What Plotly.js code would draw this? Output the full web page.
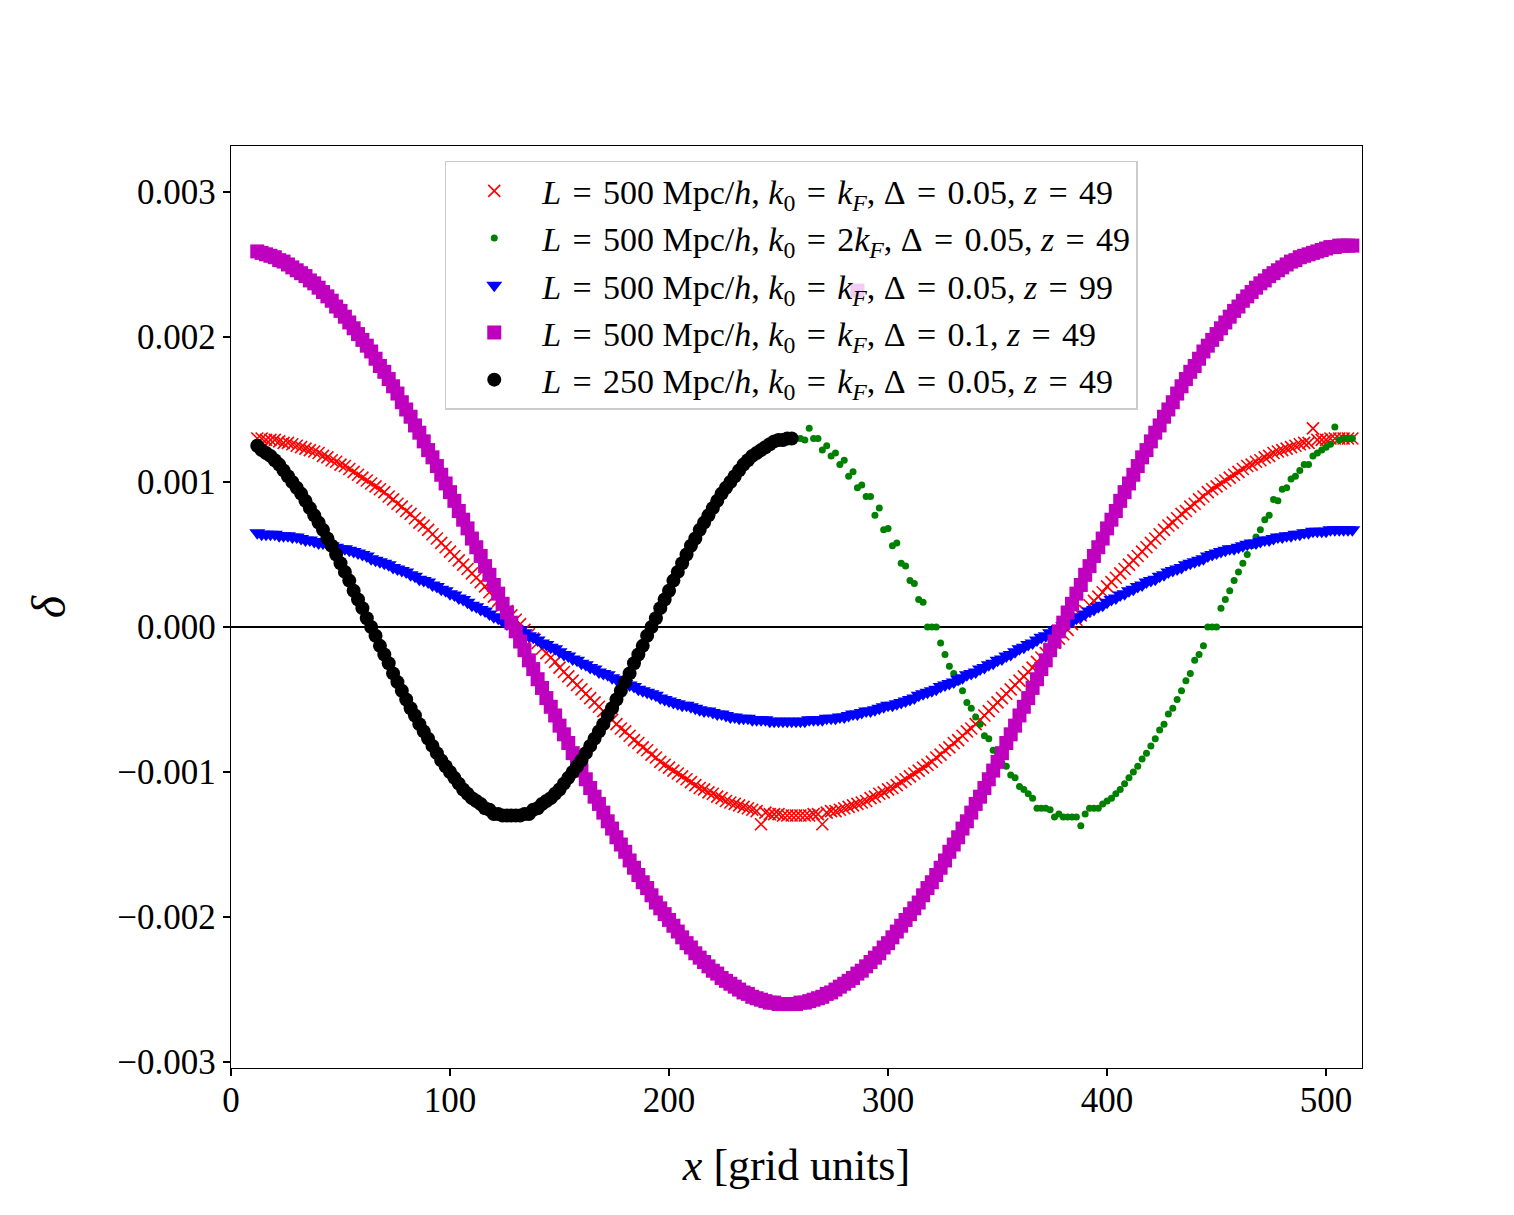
<!DOCTYPE html>
<html>
<head>
<meta charset="utf-8">
<script src="https://cdn.plot.ly/plotly-3.0.1.min.js"></script>
<style>html,body{margin:0;padding:0;background:#fff}#chart{width:1514px;height:1215px}</style>
</head>
<body>
<div id="chart"></div>
<script>
// grid positions (grid units) of the L = 500 Mpc/h runs: even set and odd set
const xsA = [
 12,16,20,24,28,32,36,40,44,48,
 52,56,60,64,68,72,76,80,84,88,
 92,96,100,104,108,112,116,120,124,128,
 132,136,140,144,148,152,156,160,164,168,
 172,176,180,184,188,192,196,200,204,208,
 212,216,220,224,228,232,236,240,244,248,
 252,256,260,264,268,272,276,280,284,288,
 292,296,300,304,308,312,316,320,324,328,
 332,336,340,344,348,352,356,360,364,368,
 372,376,380,384,388,392,396,400,404,408,
 412,416,420,424,428,432,436,440,444,448,
 452,456,460,464,468,472,476,480,484,488,
 492,496,500,504,508,512];
const xsB = [
 14,18,22,26,30,34,38,42,46,50,
 54,58,62,66,70,74,78,82,86,90,
 94,98,102,106,110,114,118,122,126,130,
 134,138,142,146,150,154,158,162,166,170,
 174,178,182,186,190,194,198,202,206,210,
 214,218,222,226,230,234,238,242,246,250,
 254,258,262,266,270,274,278,282,286,290,
 294,298,302,306,310,314,318,322,326,330,
 334,338,342,346,350,354,358,362,366,370,
 374,378,382,386,390,394,398,402,406,410,
 414,418,422,426,430,434,438,442,446,450,
 454,458,462,466,470,474,478,482,486,490,
 494,498,502,506,510];

// L=500, k0=kF, Δ=0.05, z=49
const redA = [
 1.30e-3,1.29e-3,1.29e-3,1.27e-3,1.26e-3,1.24e-3,1.22e-3,1.20e-3,1.17e-3,1.14e-3,
 1.11e-3,1.07e-3,1.03e-3,0.99e-3,0.95e-3,0.90e-3,0.85e-3,0.80e-3,0.75e-3,0.70e-3,
 0.64e-3,0.58e-3,0.52e-3,0.46e-3,0.40e-3,0.34e-3,0.28e-3,0.21e-3,0.15e-3,0.08e-3,
 0.02e-3,-0.05e-3,-0.11e-3,-0.18e-3,-0.24e-3,-0.31e-3,-0.37e-3,-0.43e-3,-0.49e-3,-0.55e-3,
 -0.61e-3,-0.67e-3,-0.72e-3,-0.78e-3,-0.83e-3,-0.88e-3,-0.93e-3,-0.97e-3,-1.01e-3,-1.05e-3,
 -1.09e-3,-1.12e-3,-1.15e-3,-1.18e-3,-1.21e-3,-1.23e-3,-1.25e-3,-1.27e-3,-1.28e-3,-1.29e-3,
 -1.30e-3,-1.30e-3,-1.30e-3,-1.30e-3,-1.29e-3,-1.28e-3,-1.27e-3,-1.25e-3,-1.23e-3,-1.21e-3,
 -1.18e-3,-1.15e-3,-1.12e-3,-1.09e-3,-1.05e-3,-1.01e-3,-0.97e-3,-0.93e-3,-0.88e-3,-0.83e-3,
 -0.78e-3,-0.72e-3,-0.67e-3,-0.61e-3,-0.55e-3,-0.49e-3,-0.43e-3,-0.37e-3,-0.31e-3,-0.24e-3,
 -0.18e-3,-0.11e-3,-0.05e-3,0.02e-3,0.08e-3,0.15e-3,0.21e-3,0.28e-3,0.34e-3,0.40e-3,
 0.46e-3,0.52e-3,0.58e-3,0.64e-3,0.70e-3,0.75e-3,0.80e-3,0.85e-3,0.90e-3,0.95e-3,
 0.99e-3,1.03e-3,1.07e-3,1.11e-3,1.14e-3,1.17e-3,1.20e-3,1.22e-3,1.24e-3,1.26e-3,
 1.27e-3,1.29e-3,1.29e-3,1.30e-3,1.30e-3,1.30e-3];
const redB = [
 1.30e-3,1.29e-3,1.28e-3,1.27e-3,1.25e-3,1.23e-3,1.21e-3,1.18e-3,1.15e-3,1.12e-3,
 1.09e-3,1.05e-3,1.01e-3,0.97e-3,0.93e-3,0.88e-3,0.83e-3,0.78e-3,0.72e-3,0.67e-3,
 0.61e-3,0.55e-3,0.49e-3,0.43e-3,0.37e-3,0.31e-3,0.24e-3,0.18e-3,0.11e-3,0.05e-3,
 -0.02e-3,-0.08e-3,-0.15e-3,-0.21e-3,-0.28e-3,-0.34e-3,-0.40e-3,-0.46e-3,-0.52e-3,-0.58e-3,
 -0.64e-3,-0.70e-3,-0.75e-3,-0.80e-3,-0.85e-3,-0.90e-3,-0.95e-3,-0.99e-3,-1.03e-3,-1.07e-3,
 -1.11e-3,-1.14e-3,-1.17e-3,-1.20e-3,-1.22e-3,-1.24e-3,-1.26e-3,-1.36e-3,-1.29e-3,-1.29e-3,
 -1.30e-3,-1.30e-3,-1.30e-3,-1.29e-3,-1.36e-3,-1.27e-3,-1.26e-3,-1.24e-3,-1.22e-3,-1.20e-3,
 -1.17e-3,-1.14e-3,-1.11e-3,-1.07e-3,-1.03e-3,-0.99e-3,-0.95e-3,-0.90e-3,-0.85e-3,-0.80e-3,
 -0.75e-3,-0.70e-3,-0.64e-3,-0.58e-3,-0.52e-3,-0.46e-3,-0.40e-3,-0.34e-3,-0.28e-3,-0.21e-3,
 -0.15e-3,-0.08e-3,-0.02e-3,0.05e-3,0.11e-3,0.18e-3,0.24e-3,0.31e-3,0.37e-3,0.43e-3,
 0.49e-3,0.55e-3,0.61e-3,0.67e-3,0.72e-3,0.78e-3,0.83e-3,0.88e-3,0.93e-3,0.97e-3,
 1.01e-3,1.05e-3,1.09e-3,1.12e-3,1.15e-3,1.18e-3,1.21e-3,1.23e-3,1.25e-3,1.27e-3,
 1.37e-3,1.29e-3,1.30e-3,1.30e-3,1.30e-3];

// L=500, k0=2kF, Δ=0.05, z=49
const greenA = [
 1.25e-3,1.20e-3,1.14e-3,1.08e-3,1.01e-3,0.92e-3,0.82e-3,0.72e-3,0.61e-3,0.49e-3,
 0.38e-3,0.25e-3,0.13e-3,0.00e-3,-0.13e-3,-0.25e-3,-0.38e-3,-0.50e-3,-0.61e-3,-0.72e-3,
 -0.82e-3,-0.92e-3,-1.00e-3,-1.08e-3,-1.15e-3,-1.20e-3,-1.25e-3,-1.29e-3,-1.30e-3,-1.30e-3,
 -1.30e-3,-1.29e-3,-1.25e-3,-1.20e-3,-1.15e-3,-1.08e-3,-1.00e-3,-0.92e-3,-0.82e-3,-0.72e-3,
 -0.61e-3,-0.50e-3,-0.38e-3,-0.25e-3,-0.13e-3,0.00e-3,0.13e-3,0.25e-3,0.38e-3,0.50e-3,
 0.61e-3,0.72e-3,0.82e-3,0.92e-3,1.00e-3,1.08e-3,1.15e-3,1.20e-3,1.24e-3,1.28e-3,
 1.29e-3,1.30e-3,1.30e-3,1.37e-3,1.30e-3,1.25e-3,1.20e-3,1.15e-3,1.07e-3,0.98e-3,
 0.90e-3,0.82e-3,0.68e-3,0.58e-3,0.42e-3,0.30e-3,0.17e-3,0.00e-3,-0.11e-3,-0.27e-3,
 -0.38e-3,-0.52e-3,-0.62e-3,-0.75e-3,-0.85e-3,-0.94e-3,-1.02e-3,-1.10e-3,-1.15e-3,-1.25e-3,
 -1.25e-3,-1.31e-3,-1.31e-3,-1.31e-3,-1.37e-3,-1.25e-3,-1.25e-3,-1.20e-3,-1.15e-3,-1.08e-3,
 -1.00e-3,-0.91e-3,-0.82e-3,-0.71e-3,-0.60e-3,-0.50e-3,-0.37e-3,-0.23e-3,-0.13e-3,0.00e-3,
 0.13e-3,0.25e-3,0.38e-3,0.50e-3,0.62e-3,0.74e-3,0.88e-3,0.95e-3,1.02e-3,1.08e-3,
 1.12e-3,1.20e-3,1.24e-3,1.38e-3,1.30e-3,1.30e-3];
const greenB = [
 1.22e-3,1.18e-3,1.12e-3,1.04e-3,0.96e-3,0.87e-3,0.77e-3,0.67e-3,0.56e-3,0.44e-3,
 0.32e-3,0.19e-3,0.06e-3,-0.06e-3,-0.19e-3,-0.32e-3,-0.44e-3,-0.56e-3,-0.67e-3,-0.77e-3,
 -0.87e-3,-0.96e-3,-1.04e-3,-1.12e-3,-1.18e-3,-1.22e-3,-1.26e-3,-1.29e-3,-1.30e-3,-1.30e-3,
 -1.29e-3,-1.26e-3,-1.22e-3,-1.18e-3,-1.12e-3,-1.04e-3,-0.96e-3,-0.87e-3,-0.77e-3,-0.67e-3,
 -0.56e-3,-0.44e-3,-0.32e-3,-0.19e-3,-0.06e-3,0.06e-3,0.19e-3,0.32e-3,0.44e-3,0.56e-3,
 0.67e-3,0.77e-3,0.87e-3,0.96e-3,1.04e-3,1.12e-3,1.18e-3,1.22e-3,1.26e-3,1.29e-3,
 1.30e-3,1.30e-3,1.29e-3,1.30e-3,1.22e-3,1.18e-3,1.12e-3,1.04e-3,0.96e-3,0.90e-3,
 0.77e-3,0.67e-3,0.56e-3,0.44e-3,0.32e-3,0.19e-3,0.00e-3,0.00e-3,-0.19e-3,-0.32e-3,
 -0.44e-3,-0.56e-3,-0.67e-3,-0.77e-3,-0.87e-3,-0.96e-3,-1.04e-3,-1.12e-3,-1.18e-3,-1.25e-3,
 -1.26e-3,-1.29e-3,-1.31e-3,-1.31e-3,-1.29e-3,-1.25e-3,-1.22e-3,-1.18e-3,-1.12e-3,-1.04e-3,
 -0.96e-3,-0.87e-3,-0.77e-3,-0.67e-3,-0.56e-3,-0.44e-3,-0.32e-3,-0.19e-3,0.00e-3,0.00e-3,
 0.19e-3,0.32e-3,0.44e-3,0.56e-3,0.67e-3,0.77e-3,0.87e-3,0.96e-3,1.04e-3,1.12e-3,
 1.18e-3,1.22e-3,1.26e-3,1.29e-3,1.30e-3];

// L=500, k0=kF, Δ=0.05, z=99
const blueA = [
 0.65e-3,0.64e-3,0.64e-3,0.63e-3,0.62e-3,0.61e-3,0.60e-3,0.58e-3,0.57e-3,0.55e-3,
 0.54e-3,0.52e-3,0.50e-3,0.47e-3,0.45e-3,0.43e-3,0.40e-3,0.38e-3,0.35e-3,0.32e-3,
 0.29e-3,0.26e-3,0.23e-3,0.20e-3,0.17e-3,0.14e-3,0.11e-3,0.07e-3,0.04e-3,0.01e-3,
 -0.02e-3,-0.06e-3,-0.09e-3,-0.12e-3,-0.15e-3,-0.19e-3,-0.22e-3,-0.25e-3,-0.28e-3,-0.31e-3,
 -0.33e-3,-0.36e-3,-0.39e-3,-0.41e-3,-0.44e-3,-0.46e-3,-0.49e-3,-0.51e-3,-0.53e-3,-0.54e-3,
 -0.56e-3,-0.58e-3,-0.59e-3,-0.60e-3,-0.62e-3,-0.63e-3,-0.63e-3,-0.64e-3,-0.64e-3,-0.65e-3,
 -0.65e-3,-0.65e-3,-0.65e-3,-0.64e-3,-0.64e-3,-0.63e-3,-0.63e-3,-0.62e-3,-0.60e-3,-0.59e-3,
 -0.58e-3,-0.56e-3,-0.54e-3,-0.53e-3,-0.51e-3,-0.49e-3,-0.46e-3,-0.44e-3,-0.41e-3,-0.39e-3,
 -0.36e-3,-0.33e-3,-0.31e-3,-0.28e-3,-0.25e-3,-0.22e-3,-0.19e-3,-0.15e-3,-0.12e-3,-0.09e-3,
 -0.06e-3,-0.02e-3,0.01e-3,0.04e-3,0.07e-3,0.11e-3,0.14e-3,0.17e-3,0.20e-3,0.23e-3,
 0.26e-3,0.29e-3,0.32e-3,0.35e-3,0.38e-3,0.40e-3,0.43e-3,0.45e-3,0.47e-3,0.50e-3,
 0.52e-3,0.54e-3,0.55e-3,0.57e-3,0.58e-3,0.60e-3,0.61e-3,0.62e-3,0.63e-3,0.64e-3,
 0.65e-3,0.66e-3,0.66e-3,0.67e-3,0.67e-3,0.67e-3];
const blueB = [
 0.64e-3,0.64e-3,0.63e-3,0.63e-3,0.62e-3,0.60e-3,0.59e-3,0.58e-3,0.56e-3,0.54e-3,
 0.53e-3,0.51e-3,0.49e-3,0.46e-3,0.44e-3,0.41e-3,0.39e-3,0.36e-3,0.33e-3,0.31e-3,
 0.28e-3,0.25e-3,0.22e-3,0.19e-3,0.15e-3,0.12e-3,0.09e-3,0.06e-3,0.02e-3,-0.01e-3,
 -0.04e-3,-0.07e-3,-0.11e-3,-0.14e-3,-0.17e-3,-0.20e-3,-0.23e-3,-0.26e-3,-0.29e-3,-0.32e-3,
 -0.35e-3,-0.38e-3,-0.40e-3,-0.43e-3,-0.45e-3,-0.47e-3,-0.50e-3,-0.52e-3,-0.54e-3,-0.55e-3,
 -0.57e-3,-0.58e-3,-0.60e-3,-0.61e-3,-0.62e-3,-0.63e-3,-0.64e-3,-0.64e-3,-0.65e-3,-0.65e-3,
 -0.65e-3,-0.65e-3,-0.65e-3,-0.64e-3,-0.64e-3,-0.63e-3,-0.62e-3,-0.61e-3,-0.60e-3,-0.58e-3,
 -0.57e-3,-0.55e-3,-0.54e-3,-0.52e-3,-0.50e-3,-0.47e-3,-0.45e-3,-0.43e-3,-0.40e-3,-0.38e-3,
 -0.35e-3,-0.32e-3,-0.29e-3,-0.26e-3,-0.23e-3,-0.20e-3,-0.17e-3,-0.14e-3,-0.11e-3,-0.07e-3,
 -0.04e-3,-0.01e-3,0.02e-3,0.06e-3,0.09e-3,0.12e-3,0.15e-3,0.19e-3,0.22e-3,0.25e-3,
 0.28e-3,0.31e-3,0.33e-3,0.36e-3,0.39e-3,0.41e-3,0.44e-3,0.46e-3,0.49e-3,0.51e-3,
 0.53e-3,0.54e-3,0.56e-3,0.58e-3,0.59e-3,0.60e-3,0.62e-3,0.63e-3,0.64e-3,0.65e-3,
 0.66e-3,0.66e-3,0.67e-3,0.67e-3,0.67e-3];

// L=500, k0=kF, Δ=0.1, z=49
const magentaA = [
 2.59e-3,2.57e-3,2.55e-3,2.52e-3,2.48e-3,2.44e-3,2.39e-3,2.34e-3,2.28e-3,2.21e-3,
 2.14e-3,2.06e-3,1.98e-3,1.90e-3,1.80e-3,1.71e-3,1.61e-3,1.50e-3,1.39e-3,1.28e-3,
 1.17e-3,1.05e-3,0.93e-3,0.80e-3,0.68e-3,0.55e-3,0.42e-3,0.29e-3,0.16e-3,0.03e-3,
 -0.10e-3,-0.23e-3,-0.36e-3,-0.49e-3,-0.61e-3,-0.74e-3,-0.87e-3,-0.99e-3,-1.11e-3,-1.22e-3,
 -1.34e-3,-1.45e-3,-1.55e-3,-1.66e-3,-1.76e-3,-1.85e-3,-1.94e-3,-2.02e-3,-2.10e-3,-2.18e-3,
 -2.25e-3,-2.31e-3,-2.37e-3,-2.42e-3,-2.46e-3,-2.50e-3,-2.53e-3,-2.56e-3,-2.58e-3,-2.59e-3,
 -2.60e-3,-2.60e-3,-2.59e-3,-2.58e-3,-2.56e-3,-2.53e-3,-2.50e-3,-2.46e-3,-2.42e-3,-2.37e-3,
 -2.31e-3,-2.25e-3,-2.18e-3,-2.10e-3,-2.02e-3,-1.94e-3,-1.85e-3,-1.76e-3,-1.66e-3,-1.55e-3,
 -1.45e-3,-1.34e-3,-1.22e-3,-1.11e-3,-0.99e-3,-0.87e-3,-0.74e-3,-0.61e-3,-0.49e-3,-0.36e-3,
 -0.23e-3,-0.10e-3,0.03e-3,0.16e-3,0.29e-3,0.42e-3,0.55e-3,0.68e-3,0.80e-3,0.93e-3,
 1.05e-3,1.17e-3,1.28e-3,1.39e-3,1.50e-3,1.61e-3,1.71e-3,1.80e-3,1.90e-3,1.98e-3,
 2.06e-3,2.14e-3,2.21e-3,2.28e-3,2.34e-3,2.39e-3,2.44e-3,2.48e-3,2.52e-3,2.55e-3,
 2.57e-3,2.59e-3,2.61e-3,2.62e-3,2.63e-3,2.63e-3];
const magentaB = [
 2.58e-3,2.56e-3,2.53e-3,2.50e-3,2.46e-3,2.42e-3,2.37e-3,2.31e-3,2.25e-3,2.18e-3,
 2.10e-3,2.02e-3,1.94e-3,1.85e-3,1.76e-3,1.66e-3,1.55e-3,1.45e-3,1.34e-3,1.22e-3,
 1.11e-3,0.99e-3,0.87e-3,0.74e-3,0.61e-3,0.49e-3,0.36e-3,0.23e-3,0.10e-3,-0.03e-3,
 -0.16e-3,-0.29e-3,-0.42e-3,-0.55e-3,-0.68e-3,-0.80e-3,-0.93e-3,-1.05e-3,-1.17e-3,-1.28e-3,
 -1.39e-3,-1.50e-3,-1.61e-3,-1.71e-3,-1.80e-3,-1.90e-3,-1.98e-3,-2.06e-3,-2.14e-3,-2.21e-3,
 -2.28e-3,-2.34e-3,-2.39e-3,-2.44e-3,-2.48e-3,-2.52e-3,-2.55e-3,-2.57e-3,-2.59e-3,-2.60e-3,
 -2.60e-3,-2.60e-3,-2.59e-3,-2.57e-3,-2.55e-3,-2.52e-3,-2.48e-3,-2.44e-3,-2.39e-3,-2.34e-3,
 -2.28e-3,-2.21e-3,-2.14e-3,-2.06e-3,-1.98e-3,-1.90e-3,-1.80e-3,-1.71e-3,-1.61e-3,-1.50e-3,
 -1.39e-3,-1.28e-3,-1.17e-3,-1.05e-3,-0.93e-3,-0.80e-3,-0.68e-3,-0.55e-3,-0.42e-3,-0.29e-3,
 -0.16e-3,-0.03e-3,0.10e-3,0.23e-3,0.36e-3,0.49e-3,0.61e-3,0.74e-3,0.87e-3,0.99e-3,
 1.11e-3,1.22e-3,1.34e-3,1.45e-3,1.55e-3,1.66e-3,1.76e-3,1.85e-3,1.94e-3,2.02e-3,
 2.10e-3,2.18e-3,2.25e-3,2.31e-3,2.37e-3,2.42e-3,2.46e-3,2.50e-3,2.53e-3,2.56e-3,
 2.58e-3,2.60e-3,2.62e-3,2.63e-3,2.63e-3];
// one stray magenta point (seen behind the legend)
const strayX = [286];
const strayY = [2.32e-3];

// L=250, k0=kF, Δ=0.05, z=49
const xsBlackA = [
 12,16,20,24,28,32,36,40,44,48,
 52,56,60,64,68,72,76,80,84,88,
 92,96,100,104,108,112,116,120,124,128,
 132,136,140,144,148,152,156,160,164,168,
 172,176,180,184,188,192,196,200,204,208,
 212,216,220,224,228,232,236,240,244,248,
 252,256];
const blackA = [
 1.25e-3,1.20e-3,1.15e-3,1.08e-3,1.00e-3,0.92e-3,0.82e-3,0.72e-3,0.61e-3,0.50e-3,
 0.38e-3,0.25e-3,0.13e-3,0.00e-3,-0.13e-3,-0.25e-3,-0.38e-3,-0.50e-3,-0.61e-3,-0.72e-3,
 -0.82e-3,-0.92e-3,-1.00e-3,-1.08e-3,-1.15e-3,-1.20e-3,-1.25e-3,-1.29e-3,-1.30e-3,-1.30e-3,
 -1.30e-3,-1.29e-3,-1.25e-3,-1.20e-3,-1.15e-3,-1.08e-3,-1.00e-3,-0.92e-3,-0.82e-3,-0.72e-3,
 -0.61e-3,-0.50e-3,-0.38e-3,-0.25e-3,-0.13e-3,0.00e-3,0.13e-3,0.25e-3,0.38e-3,0.50e-3,
 0.61e-3,0.72e-3,0.82e-3,0.92e-3,1.00e-3,1.08e-3,1.15e-3,1.20e-3,1.24e-3,1.28e-3,
 1.29e-3,1.30e-3];
const xsBlackB = [
 14,18,22,26,30,34,38,42,46,50,
 54,58,62,66,70,74,78,82,86,90,
 94,98,102,106,110,114,118,122,126,130,
 134,138,142,146,150,154,158,162,166,170,
 174,178,182,186,190,194,198,202,206,210,
 214,218,222,226,230,234,238,242,246,250,
 254];
const blackB = [
 1.22e-3,1.18e-3,1.12e-3,1.04e-3,0.96e-3,0.87e-3,0.77e-3,0.67e-3,0.56e-3,0.44e-3,
 0.32e-3,0.19e-3,0.06e-3,-0.06e-3,-0.19e-3,-0.32e-3,-0.44e-3,-0.56e-3,-0.67e-3,-0.77e-3,
 -0.87e-3,-0.96e-3,-1.04e-3,-1.12e-3,-1.18e-3,-1.22e-3,-1.26e-3,-1.29e-3,-1.30e-3,-1.30e-3,
 -1.29e-3,-1.26e-3,-1.22e-3,-1.18e-3,-1.12e-3,-1.04e-3,-0.96e-3,-0.87e-3,-0.77e-3,-0.67e-3,
 -0.56e-3,-0.44e-3,-0.32e-3,-0.19e-3,-0.06e-3,0.06e-3,0.19e-3,0.32e-3,0.44e-3,0.56e-3,
 0.67e-3,0.77e-3,0.87e-3,0.96e-3,1.04e-3,1.12e-3,1.18e-3,1.22e-3,1.26e-3,1.29e-3,
 1.30e-3];

const EQ = '\u2004=\u2004';
const labels = [
 '<i>L</i>' + EQ + '500 Mpc/<i>h</i>, <i>k</i><sub>0</sub>' + EQ + '<i>k<sub>F</sub></i>, Δ' + EQ + '0.05, <i>z</i>' + EQ + '49',
 '<i>L</i>' + EQ + '500 Mpc/<i>h</i>, <i>k</i><sub>0</sub>' + EQ + '2<i>k<sub>F</sub></i>, Δ' + EQ + '0.05, <i>z</i>' + EQ + '49',
 '<i>L</i>' + EQ + '500 Mpc/<i>h</i>, <i>k</i><sub>0</sub>' + EQ + '<i>k<sub>F</sub></i>, Δ' + EQ + '0.05, <i>z</i>' + EQ + '99',
 '<i>L</i>' + EQ + '500 Mpc/<i>h</i>, <i>k</i><sub>0</sub>' + EQ + '<i>k<sub>F</sub></i>, Δ' + EQ + '0.1, <i>z</i>' + EQ + '49',
 '<i>L</i>' + EQ + '250 Mpc/<i>h</i>, <i>k</i><sub>0</sub>' + EQ + '<i>k<sub>F</sub></i>, Δ' + EQ + '0.05, <i>z</i>' + EQ + '49'
];
const xTicks = [0,100,200,300,400,500];
const yTicks = [-0.003,-0.002,-0.001,0,0.001,0.002,0.003];

const FONT = '"Liberation Serif", "DejaVu Serif", serif';

const traces = [
 {x: xsA.concat(xsB), y: redA.concat(redB), name: labels[0], type: 'scatter', mode: 'markers',
  marker: {symbol: 'x-thin-open', size: 12, color: '#ff0000', line: {color: '#ff0000', width: 1.6}}},
 {x: xsA.concat(xsB), y: greenA.concat(greenB), name: labels[1], type: 'scatter', mode: 'markers',
  marker: {symbol: 'circle', size: 7, color: '#008000', line: {width: 0}}},
 {x: xsA.concat(xsB), y: blueA.concat(blueB), name: labels[2], type: 'scatter', mode: 'markers',
  marker: {symbol: 'triangle-down', size: 14, color: '#0000ff', line: {width: 0}}},
 {x: xsA.concat(xsB, strayX), y: magentaA.concat(magentaB, strayY), name: labels[3], type: 'scatter', mode: 'markers',
  marker: {symbol: 'square', size: 14, color: '#bf00bf', line: {width: 0}}},
 {x: xsBlackA.concat(xsBlackB), y: blackA.concat(blackB), name: labels[4], type: 'scatter', mode: 'markers',
  marker: {symbol: 'circle', size: 14, color: '#000000', line: {width: 0}}}
];

const layout = {
 width: 1514, height: 1215,
 margin: {l: 231, r: 152, t: 146, b: 147},
 paper_bgcolor: '#ffffff', plot_bgcolor: '#ffffff',
 font: {family: FONT, color: '#000000'},
 showlegend: true,
 legend: {
  x: 0.189, y: 0.984, xanchor: 'left', yanchor: 'top',
  bgcolor: 'rgba(255,255,255,0.8)', bordercolor: '#cccccc', borderwidth: 1.5,
  font: {family: FONT, size: 34, color: '#000000'},
  itemwidth: 86, tracegroupgap: 0
 },
 xaxis: {
  range: [0, 516.4], tickvals: xTicks, ticktext: xTicks.map(String),
  ticks: 'outside', ticklen: 7, tickwidth: 1.3, tickcolor: '#000',
  showline: true, linecolor: '#000', linewidth: 1.3, mirror: true,
  showgrid: false, zeroline: false, ticklabelstandoff: -6,
  tickfont: {family: FONT, size: 35},
  title: {text: '<i>x</i> [grid units]', font: {family: FONT, size: 44}, standoff: 30}
 },
 yaxis: {
  range: [-0.003041, 0.003317], tickvals: yTicks, tickformat: '.3f',
  ticks: 'outside', ticklen: 7, tickwidth: 1.3, tickcolor: '#000',
  showline: true, linecolor: '#000', linewidth: 1.3, mirror: true,
  showgrid: false, zeroline: true, zerolinecolor: '#000', zerolinewidth: 2.2,
  tickfont: {family: FONT, size: 35},
  title: {text: '<i>δ</i>', font: {family: FONT, size: 48}, standoff: 36}
 }
};

Plotly.newPlot('chart', traces, layout, {displayModeBar: false, staticPlot: true});
</script>
</body>
</html>
